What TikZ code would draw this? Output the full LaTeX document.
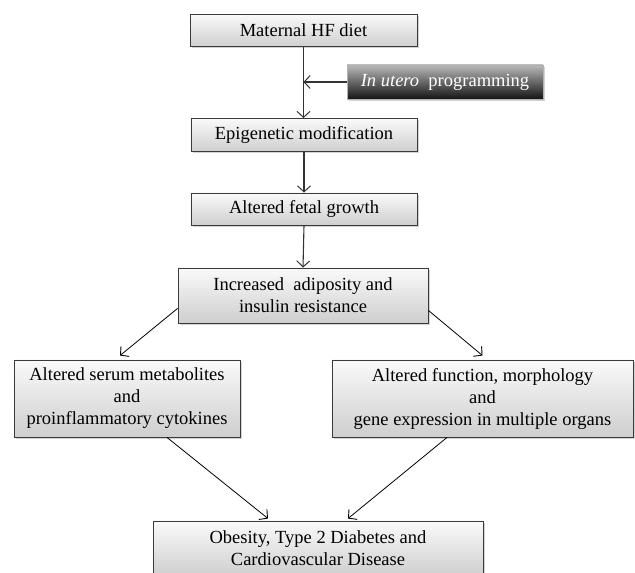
\documentclass[tikz,border=0pt]{standalone}
\usepackage{fontspec}
\setmainfont{Liberation Serif}
\usetikzlibrary{shadows,arrows.meta,calc}
\definecolor{edgegrey}{HTML}{3A3A3A}
\definecolor{arrgrey}{HTML}{333333}
\tikzset{
  box/.style={rectangle, draw=edgegrey, line width=0.9pt, top color=gray!4, bottom color=gray!38,
    align=center, inner sep=0pt, font=\fontsize{18.5}{22}\selectfont,
    drop shadow={shadow xshift=1.5pt, shadow yshift=-2pt, opacity=0.35, fill=gray}},
  darkbox/.style={rectangle, draw=gray!60, line width=0.6pt, top color=gray!55, bottom color=black!92,
    text=white, align=center, inner sep=0pt, font=\fontsize{18.5}{22}\selectfont,
    drop shadow={shadow xshift=1.5pt, shadow yshift=-2pt, opacity=0.35, fill=gray}},
  arr/.style={draw=arrgrey, line width=1.1pt, -{Straight Barb[length=6pt,width=13pt,line width=1pt]}},
  darr/.style={draw=black, line width=0.8pt, -{Straight Barb[length=6pt,width=13pt,line width=0.9pt]}}
}
\begin{document}
\begin{tikzpicture}[x=1pt,y=1pt]
\useasboundingbox (0,0) rectangle (635,573);
\node[box, minimum width=227pt, minimum height=32pt] (b1) at (303.5,542.5) {Maternal HF diet};
\node[darkbox, minimum width=196pt, minimum height=34pt] (ut) at (445,491) {\textit{In utero}\ \ programming};
\node[box, minimum width=226pt, minimum height=33pt] (epi) at (304,438) {Epigenetic modification};
\node[box, minimum width=226pt, minimum height=32pt] (fet) at (304,364) {Altered fetal growth};
\node[box, minimum width=250pt, minimum height=55pt] (inc) at (303,277.5) {Increased\ \ adiposity and\\insulin resistance};
\node[box, minimum width=226pt, minimum height=77pt] (ser) at (127,174.5) {Altered serum metabolites\\and\\proinflammatory cytokines};
\node[box, minimum width=301pt, minimum height=77pt] (org) at (482.5,174.5) {Altered function, morphology\\and\\gene expression in multiple organs};
\node[box, minimum width=330pt, minimum height=55pt] (bot) at (318,24.5) {Obesity, Type 2 Diabetes and\\Cardiovascular Disease};
\coordinate (j) at (ut.west -| b1.south);
\draw[arr] (b1.south) -- (b1.south |- epi.north);
\draw[arr] (ut.west) -- (j);
\draw[arr] (epi.south) -- (fet.north);
\draw[arr] (fet.south) -- (inc.north);
\draw[darr] ($(inc.south west)+(0,15)$) -- ($(ser.north)+(-7,4)$);
\draw[darr] ($(inc.south east)+(0,13)$) -- ($(org.north)+(0,4)$);
\draw[darr] ($(ser.south)+(40,0)$) -- ($(bot.north)+(-50,2)$);
\draw[darr] ($(org.south)+(-35.5,0)$) -- ($(bot.north)+(30,2)$);
\end{tikzpicture}
\end{document}
